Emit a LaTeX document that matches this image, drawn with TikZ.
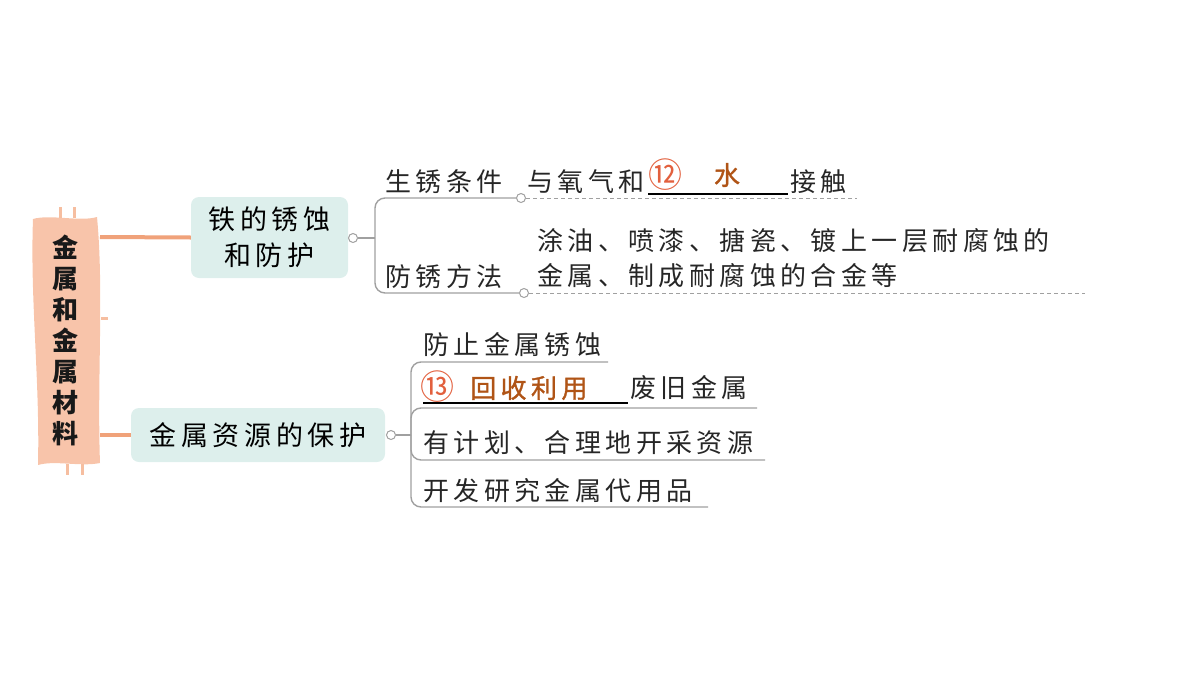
\documentclass[tikz,border=0pt]{standalone}
\usepackage{fontspec}
\setmainfont{Noto Sans CJK SC}
\newfontfamily\cjk[LetterSpace=17]{Noto Sans CJK SC}
\newfontfamily\anscjk[LetterSpace=17,FakeBold=1.2]{Noto Sans CJK SC}
\usepackage{tikz}
\usetikzlibrary{positioning}

\definecolor{peach}{RGB}{248,196,170}
\definecolor{limbc}{RGB}{240,162,122}
\definecolor{notchc}{RGB}{246,190,160}
\definecolor{teal0}{RGB}{221,239,236}
\definecolor{twigc}{RGB}{160,160,160}
\definecolor{ansc}{RGB}{176,84,22}
\definecolor{numc}{RGB}{226,96,62}

\begin{document}
\begin{tikzpicture}[x=1pt,y=-1pt,
    every node/.style={inner sep=0pt},
    topic/.style={rectangle, rounded corners=8pt, fill=teal0, font=\cjk\fontsize{27}{36}\selectfont, align=center},
    limb/.style={draw=limbc, line width=4pt},
    notch/.style={draw=notchc, line width=3pt},
    twig/.style={draw=twigc, line width=1.4pt, rounded corners=10pt},
    dashline/.style={draw=twigc, line width=1pt, dash pattern=on 4pt off 3pt},
    knot/.style={circle, draw=twigc, fill=white, line width=1pt, minimum size=9pt},
    txt/.style={anchor=west, font=\cjk\fontsize{26}{35}\selectfont, text=black!85},
    ans/.style={font=\anscjk\fontsize{26}{35}\selectfont, text=ansc},
    num/.style={font=\fontsize{34}{34}\selectfont, text=numc},
    blank/.style={draw=black, line width=1.2pt}]
            \useasboundingbox (0,0) rectangle (1200,675);
            % banner
            \fill [peach] (33,219) .. controls (50,214) and (80,222) .. (97,217)
              .. controls (104,290) and (97,380) .. (100,463)
              .. controls (80,467) and (55,460) .. (38,465)
              .. controls (40,380) and (30,300) .. (33,219) -- cycle;
            \draw [notch] (60,207) -- (60,218);
            \draw [notch] (74,207) -- (74,218);
            \draw [notch] (67,464) -- (67,475);
            \draw [notch] (82,464) -- (82,475);
            \draw [notch] (101,318) -- (108,318);
            \node (root) at (65,340) [font=\bfseries\fontsize{26}{31}\selectfont, align=center, text=black!90]
              {金\\属\\和\\金\\属\\材\\料};
            \coordinate (r1) at (100,237);
            \coordinate (r2) at (100,435);
            % topic boxes
            \node (rust) at (269.5,237.5) [topic, minimum width=157pt, minimum height=81pt] {铁的锈蚀\\和防护};
            \node (save) at (258,435) [topic, minimum width=254pt, minimum height=54pt] {金属资源的保护};
            \draw [limb] (r1) -- (rust.west);
            \draw [limb] (r2) -- (save.west);
            % rust branch
            \node (rk) at (353,238) [knot] {};
            \coordinate (rj) at (375,238);
            \node (k1) at (521,198) [knot] {};
            \node (k2) at (524,293) [knot] {};
            \coordinate (d1) at (857,198);
            \coordinate (d2) at (1085,293);
            \draw [twig] (rk.east) -- (rj);
            \draw [twig] (rj) |- (k1.west);
            \draw [twig] (rj) |- (k2.west);
            \draw [dashline] (k1.east) -- (d1);
            \draw [dashline] (k2.east) -- (d2);
            \node (t1) at (385,182) [txt] {生锈条件};
            \node (t2) at (527,182) [txt] {与氧气和};
            \node (n12) at (665,175) [num] {⑫};
            \node (a12) at (727,175) [ans] {水};
            \draw [blank] (648,194) -- (788,194);
            \node (t3) at (790,182) [txt] {接触};
            \node (t4) at (385,277) [txt] {防锈方法};
            \node (t5) at (537,258) [txt, align=left] {涂油、喷漆、搪瓷、镀上一层耐腐蚀的\\金属、制成耐腐蚀的合金等};
            % resource branch
            \node (sk) at (391,435) [knot] {};
            \coordinate (sj) at (411,435);
            \coordinate (e1) at (608,362);
            \coordinate (e2) at (757,408);
            \coordinate (e3) at (765,460);
            \coordinate (e4) at (708,507);
            \draw [twig] (sk.east) -- (sj);
            \draw [twig] (sj) |- (e1);
            \draw [twig] (sj) |- (e2);
            \draw [twig] (sj) |- (e3);
            \draw [twig] (sj) |- (e4);
            \node (s1) at (423,345) [txt] {防止金属锈蚀};
            \node (n13) at (437,387) [num] {⑬};
            \node (a13) at (470,388) [ans, anchor=west] {回收利用};
            \draw [blank] (423,403) -- (628,403);
            \node (s2) at (630,388) [txt] {废旧金属};
            \node (s3) at (423,443) [txt] {有计划、合理地开采资源};
            \node (s4) at (423,491) [txt] {开发研究金属代用品};
\end{tikzpicture}
\end{document}
